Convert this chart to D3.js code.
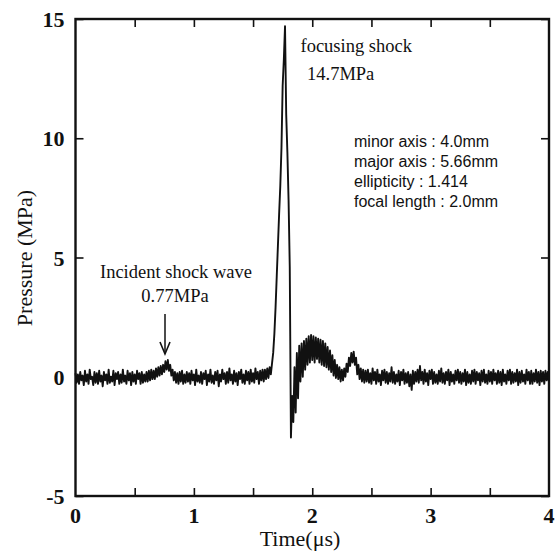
<!DOCTYPE html>
<html><head><meta charset="utf-8">
<script src="https://cdn.jsdelivr.net/npm/d3@7"></script>
<style>body{margin:0;background:#fff}svg{display:block}</style>
</head><body><svg id="c" width="557" height="553"></svg>
<script>
// ---- data ----
const timeStart = 0;          // µs
const timeStep = 0.01;        // µs between samples
// pressure samples (MPa), t = 0.00 ... 4.00
const baselineEarly = [
  0.15,-0.25,0.1,-0.3,0.2,-0.15,0.05,-0.35,0.25,-0.2,
  0.1,-0.3,0.3,-0.1,0.0,-0.35,0.2,-0.25,0.15,-0.3,
  0.25,-0.2,0.05,-0.4,0.2,-0.15,0.1,-0.3,0.3,-0.25,
  0.0,-0.2,0.25,-0.35,0.15,-0.1,0.2,-0.3,0.1,-0.25,
  0.3,-0.2,0.05,-0.3,0.25,-0.15,0.15,-0.35,0.2,-0.2,
  0.1,-0.3,0.25,-0.1,0.15,-0.3,0.2,-0.25,0.1,-0.2];
const incidentBump = [
  0.2,-0.2,0.25,-0.15,0.3,-0.1,0.25,-0.1,0.35,0.0,
  0.4,0.05,0.45,0.1,0.5,0.2,0.65,0.3,0.7,0.25,
  0.5,0.05,0.3,-0.15,0.2,-0.25,0.15,-0.3,0.2,-0.2,
  0.25,-0.3,0.1,-0.25,0.2,-0.2];
const baselineMid = [
  0.15,-0.3,0.25,-0.15,0.1,-0.35,0.3,-0.2,0.05,-0.25,
  0.2,-0.3,0.15,-0.1,0.25,-0.35,0.1,-0.2,0.3,-0.25,
  0.05,-0.3,0.2,-0.15,0.25,-0.4,0.1,-0.2,0.3,-0.1,
  0.15,-0.3,0.2,-0.25,0.35,-0.15,0.1,-0.3,0.25,-0.2,
  0.15,-0.35,0.2,-0.1,0.3,-0.25,0.1,-0.3,0.25,-0.15,
  0.2,-0.3,0.3,-0.2,0.15,-0.25,0.35,-0.1,0.2,-0.3,
  0.25,-0.15,0.3,-0.2];
const focusingPeak = [
  0.3,-0.1,0.35,-0.05,0.4,0.1,0.55,1.0,1.8,2.9,
  4.2,5.5,6.8,8.0,9.6,12.2,13.3,14.7,11.0,9.4,
  7.4,4.6,-2.55];
const afterPeak = [-0.8,-1.9,0.4,-1.5,1.0,-0.9,1.3];
const reflectedWaves = [
  -0.2,1.4,0.0,1.5,0.3,1.6,0.5,1.7,0.6,1.75,
  0.7,1.7,0.6,1.65,0.75,1.6,0.6,1.55,0.5,1.5,
  0.45,1.4,0.4,1.25,0.3,1.1,0.2,0.9,0.05,0.7,
  -0.05,0.5,-0.1,0.4,-0.2,0.3,-0.15,0.35,0.0,0.55,
  0.2,0.8,0.45,1.0,0.6,1.05,0.5,0.8,0.1,0.5,
  -0.1,0.35,-0.2,0.3,-0.25];
const baselineLate = [
  0.25,-0.2,0.3,-0.25,0.15,-0.3,0.35,-0.15,0.2,-0.3,
  0.3,-0.2,0.1,-0.35,0.25,-0.15,0.3,-0.25,0.2,-0.3,
  0.15,-0.2,0.4,-0.25,0.2,-0.3,0.1,-0.2,0.25,-0.35,
  0.2,-0.15,0.3,-0.3,0.15,-0.25,0.2,-0.4,0.1,-0.55,
  0.25,-0.3,0.2,-0.2,0.3,-0.25,0.45,-0.15,0.2,-0.3,
  0.3,-0.2,0.15,-0.35,0.25,-0.1,0.3,-0.3,0.2,-0.25,
  0.1,-0.3,0.25,-0.2,0.35,-0.25,0.15,-0.3,0.2,-0.15,
  0.3,-0.35,0.2,-0.2,0.1,-0.3,0.25,-0.15,0.3,-0.25,
  0.2,-0.3,0.15,-0.2,0.3,-0.35,0.2,-0.25,0.1,-0.3,
  0.25,-0.2,0.3,-0.3,0.2,-0.15,0.15,-0.35,0.25,-0.2,
  0.3,-0.25,0.1,-0.3,0.25,-0.2,0.2,-0.3,0.3,-0.15,
  0.15,-0.3,0.25,-0.25,0.2,-0.35,0.3,-0.2,0.1,-0.3,
  0.25,-0.15,0.3,-0.3,0.2,-0.25,0.15,-0.2,0.3,-0.35,
  0.2,-0.25,0.25,-0.2,0.1,-0.3,0.3,-0.15,0.2,-0.3,
  0.25,-0.3,0.15,-0.2,0.3,-0.25,0.2,-0.35,0.25,-0.2,
  0.2,-0.3,0.25,-0.15,0.2,-0.25];
const pressure = [].concat(baselineEarly, incidentBump, baselineMid,
  focusingPeak, afterPeak, reflectedWaves, baselineLate);

const xTickValues = [0, 1, 2, 3, 4];
const xMinorTickValues = [0.5, 1, 1.5, 2, 2.5, 3, 3.5];
const yTickValues = [-5, 0, 5, 10, 15];
const xDomain = [0, 4];
const yDomain = [-5, 15];
const xTitle = "Time(μs)";
const yTitle = "Pressure (MPa)";
const paramLines = ["minor axis : 4.0mm", "major axis : 5.66mm",
                    "ellipticity : 1.414", "focal length : 2.0mm"];

// ---- layout ----
const L = 75.5, R = 549, T = 19, B = 496;
const svg = d3.select("#c");
const x = d3.scaleLinear().domain(xDomain).range([L, R]);
const y = d3.scaleLinear().domain(yDomain).range([B, T]);
const ink = "#111";
const serif = "'Liberation Serif','Times New Roman',serif";
const sans = "'Liberation Sans',Arial,sans-serif";

// data line
const samples = pressure.map((p, i) => ({t: timeStart + i * timeStep, p}));
svg.append("path").datum(samples)
  .attr("fill", "none").attr("stroke", ink).attr("stroke-width", 1.9)
  .attr("stroke-linejoin", "round")
  .attr("d", d3.line().x(d => x(d.t)).y(d => y(d.p)));

// axes (ticks inward on all sides)
const tickLen = 8;
const axB = svg.append("g").attr("transform", `translate(0,${B})`)
  .call(d3.axisBottom(x).tickValues(xMinorTickValues).tickSize(-tickLen).tickFormat(""));
const axT = svg.append("g").attr("transform", `translate(0,${T})`)
  .call(d3.axisTop(x).tickValues(xMinorTickValues).tickSize(-tickLen).tickFormat(""));
const axL = svg.append("g").attr("transform", `translate(${L},0)`)
  .call(d3.axisLeft(y).tickValues(yTickValues).tickSize(-tickLen).tickFormat(""));
const axR = svg.append("g").attr("transform", `translate(${R},0)`)
  .call(d3.axisRight(y).tickValues(yTickValues).tickSize(-tickLen).tickFormat(""));
[axB, axT, axL, axR].forEach(g => {
  g.select(".domain").remove();
  g.selectAll("line").attr("stroke", ink).attr("stroke-width", 1.6);
});
// frame
svg.append("rect").attr("x", L).attr("y", T).attr("width", R - L).attr("height", B - T)
  .attr("fill", "none").attr("stroke", ink).attr("stroke-width", 2.4);

// tick labels
svg.append("g").selectAll("text").data(xTickValues).join("text")
  .attr("x", d => x(d)).attr("y", B + 27)
  .attr("text-anchor", "middle").attr("font-family", serif)
  .attr("font-size", 22).attr("font-weight", "bold").attr("fill", ink)
  .text(d => d);
svg.append("g").selectAll("text").data(yTickValues).join("text")
  .attr("x", L - 11).attr("y", d => y(d) + 8)
  .attr("text-anchor", "end").attr("font-family", serif)
  .attr("font-size", 22).attr("font-weight", "bold").attr("fill", ink)
  .text(d => d);

// axis titles
svg.append("text").attr("x", 300).attr("y", 546)
  .attr("text-anchor", "middle").attr("font-family", serif)
  .attr("font-size", 22).attr("fill", ink).text(xTitle);
svg.append("text").attr("transform", `translate(32,258) rotate(-90)`)
  .attr("text-anchor", "middle").attr("font-family", serif)
  .attr("font-size", 22).attr("fill", ink).text(yTitle);

// annotations
function note(txt, px, py, size, fam, anchor) {
  svg.append("text").attr("x", px).attr("y", py)
    .attr("font-family", fam || serif).attr("font-size", size)
    .attr("text-anchor", anchor || "start").attr("fill", ink).text(txt);
}
note("focusing shock", 300.5, 52, 18.5);
note("14.7MPa", 307, 80, 18.5);
note("Incident shock wave", 176, 278, 18.5, serif, "middle");
note("0.77MPa", 175, 302, 18.5, serif, "middle");
paramLines.forEach((s, i) => note(s, 354, 147 + i * 20.1, 16, sans));

// arrow to incident wave
svg.append("line").attr("x1", 165).attr("y1", 314).attr("x2", 165).attr("y2", 353)
  .attr("stroke", ink).attr("stroke-width", 1.5);
svg.append("path").attr("d", "M160,342 L165,354 L170,342")
  .attr("fill", "none").attr("stroke", ink).attr("stroke-width", 1.6);
</script>
</body></html>
